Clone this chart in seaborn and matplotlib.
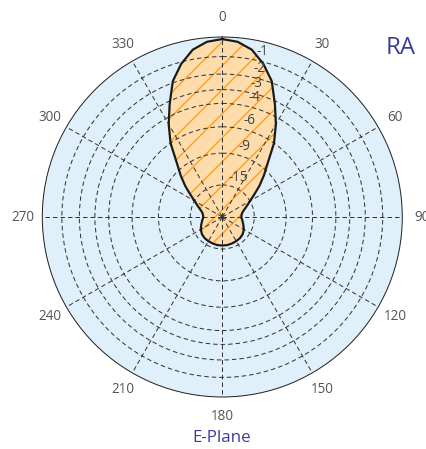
import numpy as np
import pandas as pd
import matplotlib
matplotlib.use("Agg")
import matplotlib.pyplot as plt
import matplotlib.transforms as mtransforms
import seaborn as sns

# ---- data ----
angle_deg = [0, 5, 10, 15, 20, 25, 30, 35, 40, 45, 50, 55, 60, 65, 70, 75, 80, 85,
             90, 95, 100, 110, 120, 130, 140, 150, 160, 170, 180,
             190, 200, 210, 220, 230, 240, 250, 260, 265, 270, 275, 280, 285, 290,
             295, 300, 305, 310, 315, 320, 325, 330, 335, 340, 345, 350, 355, 360]
gain_db = [-0.1, -0.2, -0.5, -1.1, -1.9, -3.2, -4.5, -6.0, -8.1, -9.7, -11.4, -13.3,
           -15.0, -16.3, -17.5, -18.5, -19.1, -19.4, -19.5, -19.3, -18.9, -18.1,
           -17.2, -16.6, -16.3, -16.2, -16.1, -16.0, -16.0,
           -16.0, -16.1, -16.2, -16.3, -16.6, -17.2, -18.1, -18.9, -19.3, -19.5,
           -19.4, -19.1, -18.5, -17.5, -16.3, -15.0, -13.3, -11.4, -9.7, -8.1,
           -6.0, -4.5, -3.2, -1.9, -1.1, -0.5, -0.2, -0.1]
ring_db = [-1, -2, -3, -4, -6, -9, -15]
ring_labels = ["-1", "-2", "-3", "-4", "-6", "-9", "-15"]
theta_ticks = [0, 30, 60, 90, 120, 150, 180, 210, 240, 270, 300, 330]
theta_labels = [str(t) for t in theta_ticks]
title_text = "RA"
plane_text = "E-Plane"

df = pd.DataFrame({"theta": np.deg2rad(angle_deg),
                   "r": 10 ** (np.array(gain_db) / 20.0)})
ring_r = 10 ** (np.array(ring_db) / 20.0)

sns.set_style("white")
plt.rcParams["font.family"] = ["Open Sans", "DejaVu Sans"]
plt.rcParams["hatch.linewidth"] = 1.4

DPI = 72
fig = plt.figure(figsize=(426 / DPI, 449 / DPI), dpi=DPI)
ax = fig.add_axes([0.0993, 0.1158, 0.845, 0.8018], projection="polar")
ax.set_theta_zero_location("N")
ax.set_theta_direction(-1)
ax.set_facecolor("#dff0fb")
ax.set_ylim(0, 1)

grid_color = "#333333"
dash = (0, (4.5, 3))

# lobe fill with hatch
ax.fill(df["theta"], df["r"], facecolor="#ffdcab", edgecolor="#ff9e1f",
        hatch="/", linewidth=0, zorder=2)
sns.lineplot(data=df, x="theta", y="r", ax=ax, sort=False, color="#1a1a1a",
             linewidth=2.2, zorder=4, estimator=None)

ax.set_rgrids(ring_r, labels=[""] * len(ring_r))
ax.set_thetagrids(theta_ticks, labels=theta_labels)
ax.grid(True, color=grid_color, linestyle=dash, linewidth=1.0, zorder=3)
ax.set_axisbelow(False)
for gl in ax.xaxis.get_gridlines() + ax.yaxis.get_gridlines():
    gl.set_zorder(3)
ax.tick_params(axis="x", pad=9, labelsize=13.5, colors="#555555")
ax.spines["polar"].set_color("#222222")
ax.spines["polar"].set_linewidth(1.0)
ax.set_xlabel("")
ax.set_ylabel("")

off = mtransforms.offset_copy(ax.transData, fig=fig, x=10, y=8, units="points")
for rr, lab in zip(ring_r, ring_labels):
    ax.text(np.deg2rad(11), rr, lab, transform=off, ha="center", va="center",
            fontsize=13.5, color="#444444", zorder=5)

fig.text(386 / 426, 1 - 48 / 449, title_text, fontsize=24, color="#3d3d99",
         ha="left", va="center")
fig.text(222 / 426, 1 - 438 / 449, plane_text, fontsize=17, color="#3d3d99",
         ha="center", va="center")

fig.savefig("out.png", dpi=DPI)
